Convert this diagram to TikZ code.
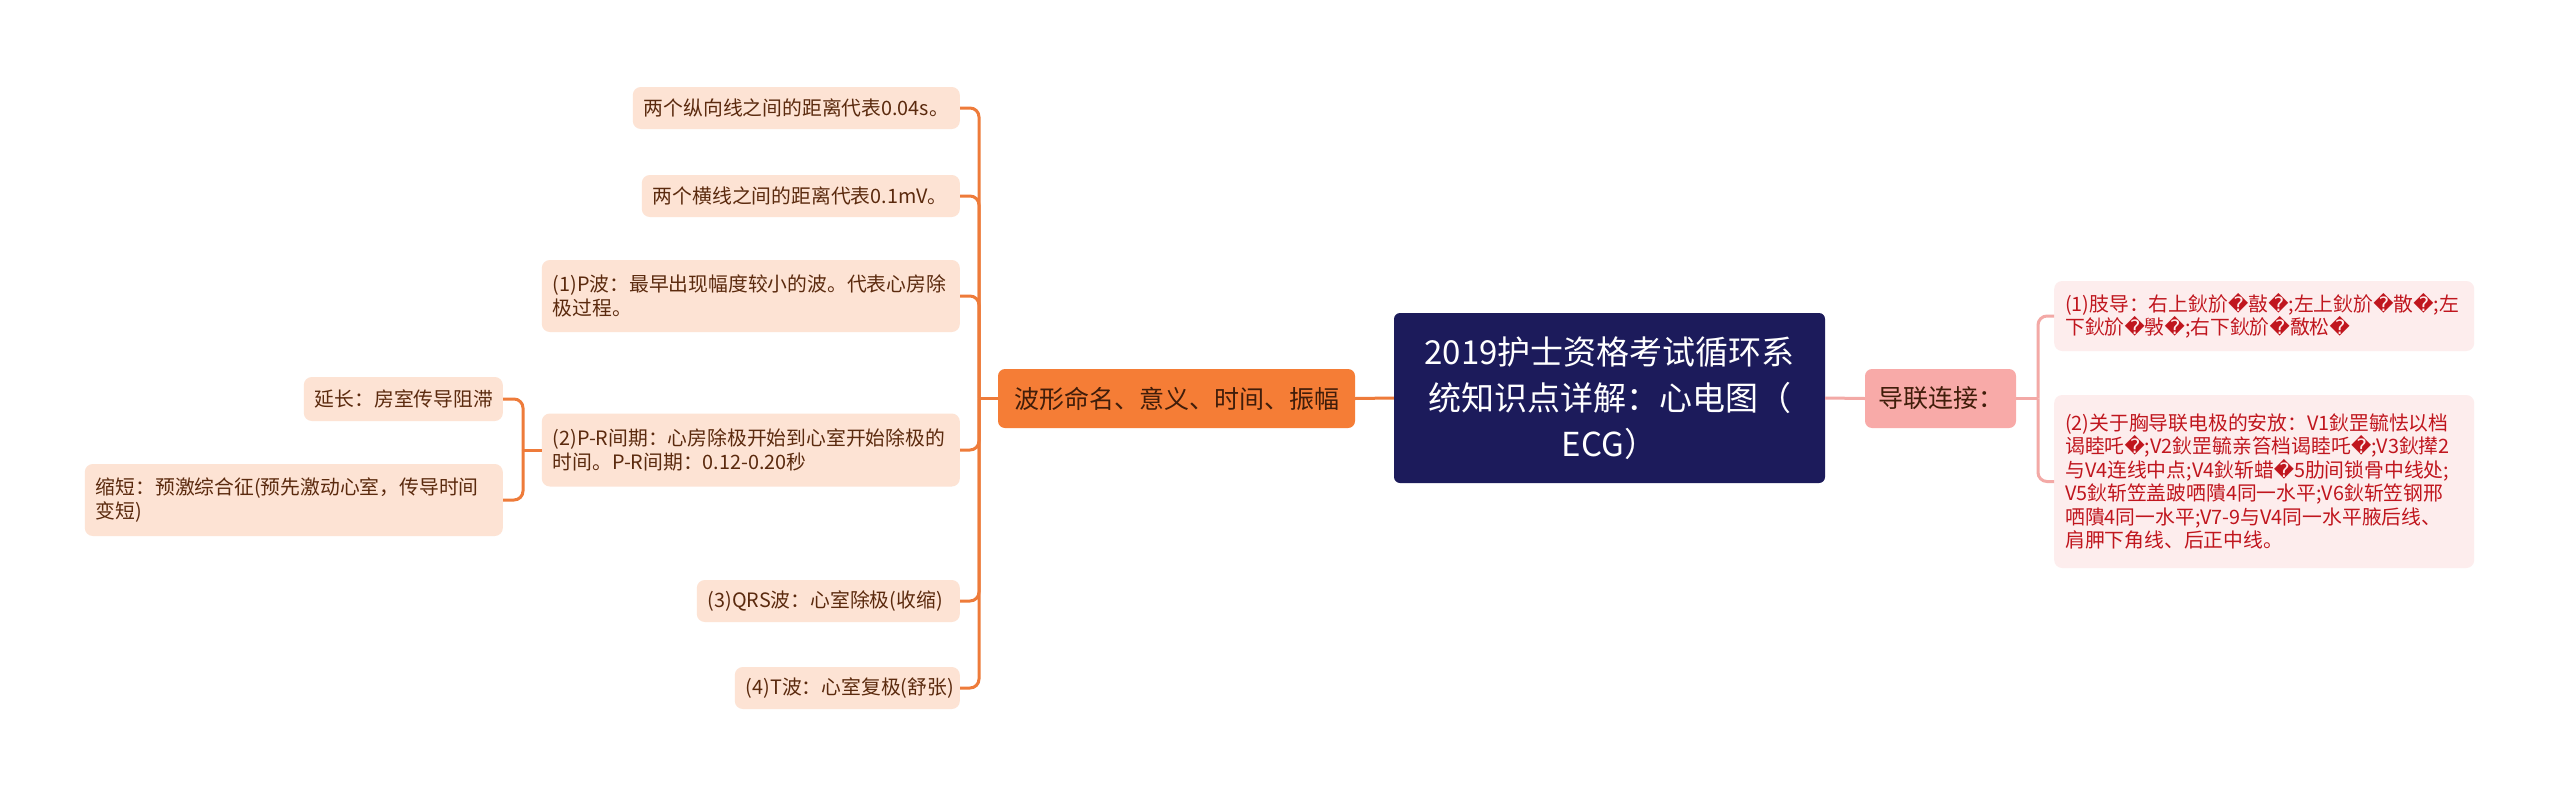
\documentclass[tikz,border=0pt]{standalone}
\usepackage{fontspec}
\setmainfont{Noto Sans CJK SC}
\newfontfamily\symfont{DejaVu Sans}
\definecolor{mmnavy}{HTML}{1C1B5B}
\definecolor{mmorange}{HTML}{F57D36}
\definecolor{mmpeach}{HTML}{FDE3D4}
\definecolor{mmbrown}{HTML}{5B2A0E}
\definecolor{mmpink}{HTML}{F8AAA8}
\definecolor{mmrose}{HTML}{FDEDED}
\definecolor{mmred}{HTML}{C0161E}
\definecolor{mmlinel}{HTML}{EE7B3A}
\definecolor{mmliner}{HTML}{F3A9A6}
\newcommand{\bad}{{\symfont\char"FFFD}}

\begin{document}
\begin{tikzpicture}[
    x=1pt, y=-1pt,
    root/.style={
        fill=mmnavy, rounded corners=6pt, text=white, align=center,
        font=\fontsize{33}{46}\selectfont, minimum width=431pt,
        minimum height=170pt, inner sep=0pt
    },
    topic/.style={
        fill=#1, rounded corners=7pt, text=mmbrown!70!black,
        font=\fontsize{25}{30}\selectfont, minimum height=59pt, inner sep=0pt
    },
    leaf/.style={
        fill=mmpeach, rounded corners=8pt, text=mmbrown, align=left,
        font=\fontsize{19.8}{23.5}\selectfont, inner xsep=11pt,
        inner ysep=0pt, minimum height=42pt, anchor=east
    },
    rleaf/.style={
        leaf, fill=mmrose, text=mmred, anchor=west
    },
    branch/.style={draw=mmlinel, line width=3pt, rounded corners=9pt},
    rbranch/.style={branch, draw=mmliner},
]

\useasboundingbox[fill=white] (0,0) rectangle (2560,798);

% ===================================================================
% CENTRE
% ===================================================================
\node[root] (root) at (1609.5,398)
    {2019护士资格考试循环系\\统知识点详解：心电图（\\ECG）};

\node[topic=mmorange, minimum width=357pt] (wave) at (1176.5,398.5)
    {波形命名、意义、时间、振幅};
\node[topic=mmpink, minimum width=151pt] (lead) at (1940.5,398.5)
    {导联连接：};

% ===================================================================
% LEFT — waveforms
% ===================================================================
\node[leaf, text width=305pt] (w1) at (960,108) {两个纵向线之间的距离代表0.04s。};
\node[leaf, text width=296pt] (w2) at (960,196) {两个横线之间的距离代表0.1mV。};
\node[leaf, text width=396pt, minimum height=72pt] (w3) at (960,296)
    {(1)P波：最早出现幅度较小的波。代表心房除\\极过程。};
\node[leaf, text width=396pt, minimum height=73pt] (w4) at (960,450)
    {(2)P-R间期：心房除极开始到心室开始除极的\\时间。P-R间期：0.12-0.20秒};
\node[leaf, text width=241pt] (w5) at (960,601) {(3)QRS波：心室除极(收缩)};
\node[leaf, text width=203pt] (w6) at (960,688) {(4)T波：心室复极(舒张)};

% P-R interval sub items
\node[leaf, text width=177pt, minimum height=44pt] (pr1) at (503,399) {延长：房室传导阻滞};
\node[leaf, text width=396pt, minimum height=72pt] (pr2) at (503,500)
    {缩短：预激综合征(预先激动心室，传导时间\\变短)};

% ===================================================================
% RIGHT — leads
% ===================================================================
\node[rleaf, text width=398pt, minimum height=70pt] (l1) at (2054,316)
    {(1)肢导：右上鈥斺\bad{}敼\bad;左上鈥斺\bad{}散\bad;左\\下鈥斺\bad{}斅\bad;右下鈥斺\bad{}敿松\bad};
\node[rleaf, text width=398pt, minimum height=173pt] (l2) at (2054,481.5)
    {(2)关于胸导联电极的安放：V1鈥罡毓怯以档\\谒睦吒\bad;V2鈥罡毓亲笞档谒睦吒\bad;V3鈥撵2\\与V4连线中点;V4鈥斩蜡\bad{}5肋间锁骨中线处;\\V5鈥斩笠盖跛哂隤4同一水平;V6鈥斩笠钢邢\\哂隤4同一水平;V7-9与V4同一水平腋后线、\\肩胛下角线、后正中线。};

% ===================================================================
% CONNECTORS
% ===================================================================
\coordinate (jl) at (979,398.5);
\coordinate (jp) at (523,450);
\coordinate (jr) at (2038,398.5);

\draw[branch] (root.west) -- (wave.east);
\draw[rbranch] (root.east) -- (lead.west);

\draw[branch] (wave.west) -- (jl);
\foreach \n in {w1,w2,w3,w4,w5,w6}
    \draw[branch] (jl) |- (\n.east);

\draw[branch] (w4.west) -- (jp);
\foreach \n in {pr1,pr2}
    \draw[branch] (jp) |- (\n.east);

\draw[rbranch] (lead.east) -- (jr);
\foreach \n in {l1,l2}
    \draw[rbranch] (jr) |- (\n.west);

\end{tikzpicture}
\end{document}
